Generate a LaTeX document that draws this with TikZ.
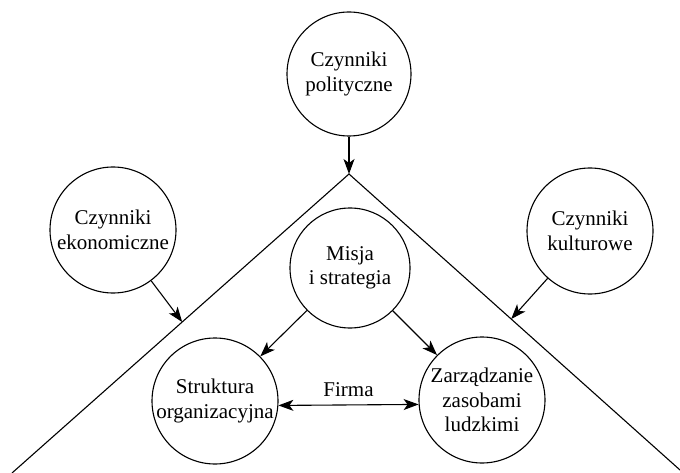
\documentclass[tikz,border=0pt]{standalone}
\usepackage{fontspec}
\setmainfont{Liberation Serif}
\usetikzlibrary{arrows.meta,calc}
\begin{document}
\begin{tikzpicture}[x=1pt, y=-1pt, line width=1.1pt,
  factor/.style={circle, draw, minimum size=126pt, inner sep=0pt, align=center,
    font=\fontsize{21}{24.5}\selectfont},
  arr/.style={-{Stealth[length=15pt,width=11pt,inset=4pt]}},
  dbl/.style={{Stealth[length=15pt,width=11pt,inset=4pt]}-{Stealth[length=15pt,width=11pt,inset=4pt]}}]
  \useasboundingbox (0,0) rectangle (680,473);

  % outer factors
  \node[factor, minimum size=124pt] (pol) at (349,74) {Czynniki\\polityczne};
  \node[factor] (eko) at (113,230) {Czynniki\\ekonomiczne};
  \node[factor] (kul) at (590,231) {Czynniki\\kulturowe};

  % the firm's roof
  \coordinate (apex) at (349,174);
  \coordinate (lb) at (12,473);
  \coordinate (rb) at (680,470);
  \draw (lb) -- (apex) -- (rb);
  \coordinate (ekoHit) at ($(apex)!0.495!(lb)$);
  \coordinate (kulHit) at ($(apex)!0.49!(rb)$);

  % inside the firm
  \node[factor, minimum size=120pt] (mis) at (350,268) {Misja\\i strategia};
  \node[factor] (str) at (215,401) {Struktura\\organizacyjna};
  \node[factor] (zar) at (482,400) {Zarządzanie\\zasobami\\ludzkimi};

  % influences
  \draw[arr] (pol) -- (apex);
  \draw[arr] (eko) -- (ekoHit);
  \draw[arr] (kul) -- (kulHit);
  \draw[arr] (mis) -- (str);
  \draw[arr] (mis) -- (zar);
  \draw[dbl] (str.-4) -- node[above=4pt, font=\fontsize{21}{24.5}\selectfont] (firma) {Firma} (zar.184);
\end{tikzpicture}
\end{document}
